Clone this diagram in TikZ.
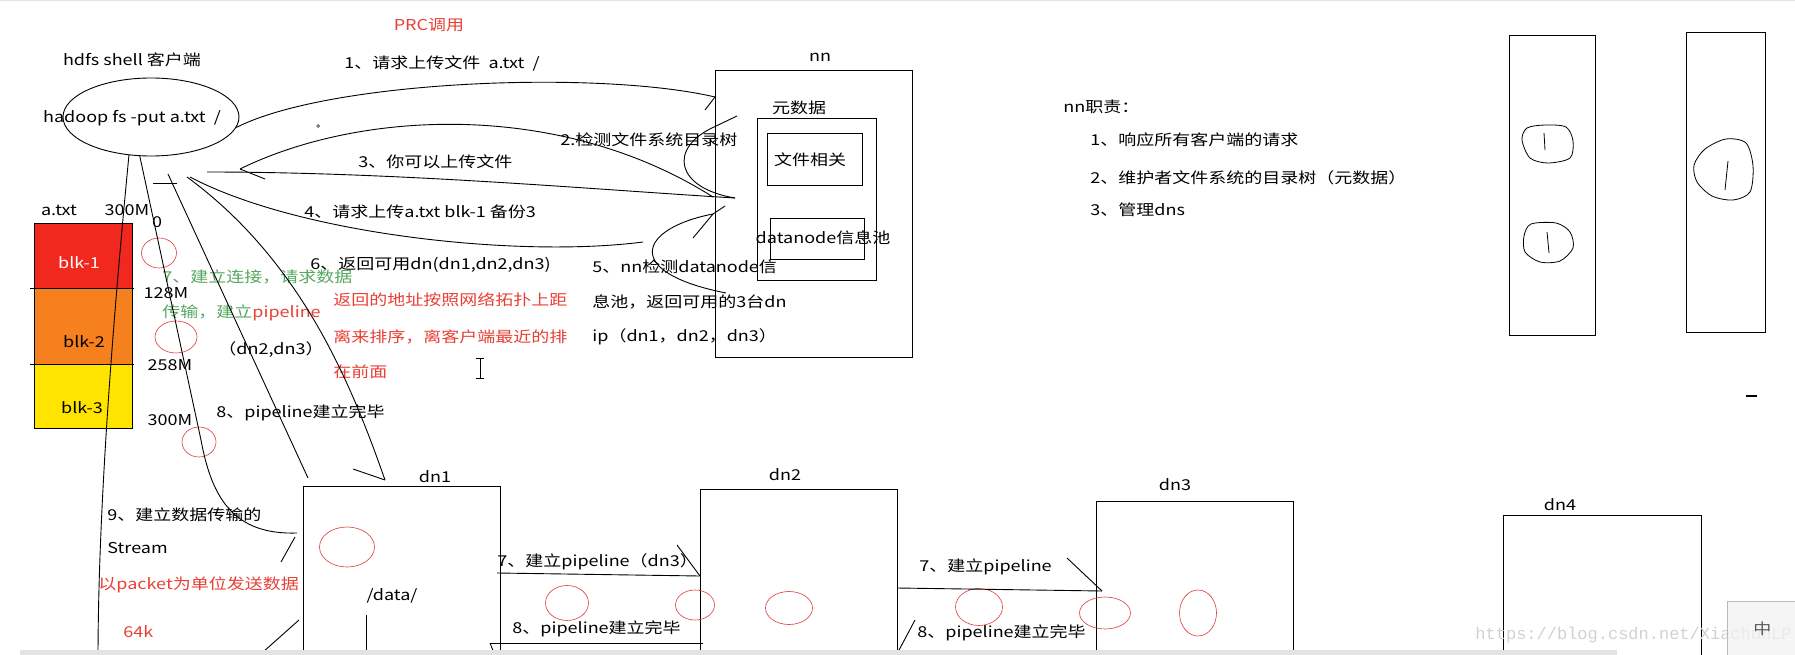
\documentclass[tikz,border=0pt]{standalone}
\usepackage{fontspec}
\setmainfont{Noto Sans CJK SC}[FakeStretch=1.2]
\newfontfamily\wmfont{Liberation Mono}
\usetikzlibrary{shapes.geometric}
\definecolor{penred}{RGB}{232,64,54}
\definecolor{pengreen}{RGB}{86,168,96}
\definecolor{ringred}{RGB}{222,60,60}
\definecolor{blkred}{RGB}{240,40,30}
\definecolor{blkorange}{RGB}{246,128,30}
\definecolor{blkyellow}{RGB}{255,228,0}
\begin{document}
\begin{tikzpicture}[
        x=1pt, y=-1pt,
        line width=0.9pt,
        every node/.style={font=\fontsize{15}{17}\selectfont, inner sep=0pt},
        lbl/.style={anchor=west},
        redtxt/.style={text=penred},
        grntxt/.style={text=pengreen},
        ring/.style 2 args={draw=ringred, line width=0.6pt, ellipse, minimum width=#1pt, minimum height=#2pt},
        ]
        \useasboundingbox (0,0) rectangle (1795,655);
        \clip (0,0) rectangle (1795,655);
        \fill[white] (0,0) rectangle (1795,655);
        \fill[blue!8!gray!20] (0,0) rectangle (1795,1.5);

        % Client
        \node[redtxt] (rpc) at (429,25) {PRC调用};
        \node (clientlbl) at (132,60) {hdfs shell 客户端};
        \node[draw, ellipse, minimum width=176pt, minimum height=78pt] (client) at (151,117) {};
        \node (cmd) at (132,118) {hadoop fs -put a.txt\ \ /};
        \draw[line width=0.5pt] (318,126) circle (1.4);

        % File blocks
        \node (afile) at (59,210) {a.txt};
        \node (asize) at (127,210) {300M};
        \fill[blkred] (34,223) rectangle (132,288);
        \fill[blkorange] (34,288) rectangle (132,364);
        \fill[blkyellow] (34,364) rectangle (132,428);
        \draw (34,223) rectangle (132,428);
        \draw (30,288) -- (134,288);
        \draw (30,364) -- (134,364);
        \node[text=white] (blk1) at (79,263) {blk-1};
        \node (blk2) at (84,342) {blk-2};
        \node (blk3) at (82,408) {blk-3};
        \node (off0) at (157,222) {0};
        \node (off1) at (166,293) {128M};
        \node (off2) at (170,365) {258M};
        \node (off3) at (170,420) {300M};
        \node[ring={35}{30}] (r1) at (159,253) {};
        \node[ring={42}{32}] (r2) at (176,337) {};
        \node[ring={34}{30}] (r3) at (199,442) {};

        % Namenode
        \node (nnlbl) at (820,57) {nn};
        \node[draw, minimum width=197pt, minimum height=287pt] (nn) at (813.5,213.5) {};
        \node (meta) at (799,108) {元数据};
        \node[draw, minimum width=119pt, minimum height=162pt] (metabox) at (816.5,199) {};
        \node[draw, minimum width=95pt, minimum height=52pt] (filebox) at (814.5,159) {};
        \node (filetxt) at (810,160) {文件相关};
        \node[draw, minimum width=94pt, minimum height=41pt] (poolbox) at (817,238.5) {};
        \node (pooltxt) at (823,238) {datanode信息池};

        % Messages client <-> nn
        \node[lbl] (m1) at (344,63) {1、请求上传文件\ \ a.txt\ \ /};
        \node[lbl] (m2) at (560,140) {2.检测文件系统目录树};
        \node[lbl] (m3) at (358,162) {3、你可以上传文件};
        \node[lbl] (m4) at (304,212) {4、请求上传a.txt blk-1 备份3};
        \node[lbl] (m6) at (310,265) {6、返回可用dn(dn1,dn2,dn3)};
        \node[lbl, redtxt] (m6a) at (333,300) {返回的地址按照网络拓扑上距};
        \node[lbl, redtxt] (m6b) at (333,337) {离来排序，离客户端最近的排};
        \node[lbl, redtxt] (m6c) at (333,372) {在前面};
        \node[lbl] (m5a) at (592,267) {5、nn检测datanode信};
        \node[lbl] (m5b) at (592,302) {息池，返回可用的3台dn};
        \node[lbl] (m5c) at (592,337) {ip（dn1，dn2，dn3）};

        \coordinate (nnA) at (715,97);
        \coordinate (nnB) at (714,127);
        \coordinate (nnC) at (735,198);
        \coordinate (nnD) at (713,197);
        \coordinate (nnE) at (713,214);
        \coordinate (nnF) at (726,293);
        \coordinate (nnG) at (643,242);
        \coordinate (cl3) at (240,169);
        \coordinate (cl4) at (207,172);
        \coordinate (cl6) at (190,177);

        \draw (client.-7) .. controls (330,80) and (600,70) .. (nnA);
        \draw (nnA) -- ++(-10,13);
        \draw (737,116) -- (nnB) .. controls (668,148) and (675,188) .. (nnC);
        \draw (nnD) .. controls (560,100) and (360,110) .. (cl3);
        \draw (cl3) -- ++(25,10);
        \draw (cl4) .. controls (400,172) and (600,190) .. (nnC);
        \draw (nnG) .. controls (520,258) and (300,235) .. (cl6);
        \draw (nnF) .. controls (620,272) and (640,228) .. (nnE);
        \draw (nnE) -- ++(-20,24);
        \draw (nnE) -- ++(12,-8);

        % Pipeline notes
        \node[lbl, grntxt] (m7a) at (162,277) {7、建立连接，请求数据};
        \node[lbl] (m7b) at (162,313) {\textcolor{pengreen}{传输，建立}\textcolor{penred}{pipeline}};
        \node[lbl] (m7c) at (218,350) {（dn2,dn3）};
        \node[lbl] (m8) at (216,413) {8、pipeline建立完毕};
        \node[lbl] (m9a) at (107,515) {9、建立数据传输的};
        \node[lbl] (m9b) at (107,548) {Stream};
        \node[lbl, redtxt] (m9c) at (98,585) {以packet为单位发送数据};
        \node[lbl, redtxt] (m9d) at (123,632) {64k};
        \draw[line width=0.6pt] (480,358) -- (480,378) (476,358) -- (484,358) (476,378) -- (484,378);

        % Datanodes
        \node (dn1lbl) at (435,477) {dn1};
        \node (dn2lbl) at (785,475) {dn2};
        \node (dn3lbl) at (1175,485) {dn3};
        \node (dn4lbl) at (1560,505) {dn4};
        \draw (303,660) -- (303,486) -- (500,486) -- (500,660);
        \draw (700,660) -- (700,489) -- (897,489) -- (897,660);
        \draw (1096,660) -- (1096,501) -- (1293,501) -- (1293,660);
        \draw (1503,660) -- (1503,515) -- (1701,515) -- (1701,660);
        \node (data) at (392,596) {/data/};
        \draw (366,615) -- (366,660);
        \node[ring={55}{40}] (r4) at (347,547) {};
        \node[ring={43}{35}] (r5) at (567,603) {};
        \node[ring={39}{30}] (r6) at (695,605) {};
        \node[ring={47}{33}] (r7) at (789,608) {};
        \node[ring={47}{37}] (r8) at (979,607) {};
        \node[ring={51}{32}] (r9) at (1105,613) {};
        \node[ring={37}{46}] (r10) at (1198,613) {};

        \coordinate (dn1C) at (308,478);
        \coordinate (dn1D) at (385,480);
        \coordinate (dn1B) at (297,533);
        \coordinate (cl7) at (187,177);
        \coordinate (cl8) at (168,174);

        \draw (client.-120) .. controls (115,300) and (98,500) .. (98,660);
        \draw (client.-106) -- (201,440) .. controls (212,500) and (235,535) .. (dn1B);
        \draw (295,537) -- (281,562);
        \draw (dn1C) -- (cl8);
        \draw (153,183) -- (177,183);
        \draw (cl7) .. controls (300,260) and (350,380) .. (dn1D);
        \draw (dn1D) -- (353,469);
        \draw (299,620) -- (263,652);

        \node[lbl] (p7a) at (497,562) {7、建立pipeline（dn3）};
        \node[lbl] (p8a) at (512,629) {8、pipeline建立完毕};
        \node[lbl] (p7b) at (919,567) {7、建立pipeline};
        \node[lbl] (p8b) at (917,633) {8、pipeline建立完毕};
        \draw (497,573) -- (700,576);
        \draw (700,576) -- (677,545);
        \draw (703,643) -- (490,643);
        \draw (490,643) -- (494,653);
        \draw (897,588) -- (1102,591);
        \draw (1102,591) -- (1067,558);
        \draw (1096,652) -- (898,652);
        \draw (898,652) -- (915,620);

        % nn duties
        \node[lbl] (duty) at (1063,107) {nn职责：};
        \node[lbl] (duty1) at (1090,140) {1、响应所有客户端的请求};
        \node[lbl] (duty2) at (1090,178) {2、维护者文件系统的目录树（元数据）};
        \node[lbl] (duty3) at (1090,210) {3、管理dns};

        % Racks on the right
        \node[draw, minimum width=86pt, minimum height=300pt] (rackA) at (1552,185) {};
        \node[draw, minimum width=79pt, minimum height=300pt] (rackB) at (1725.5,182) {};
        \draw[line width=0.8pt] plot[smooth cycle] coordinates {(1522,140) (1527,128) (1545,125) (1566,127) (1573,141) (1570,158) (1548,163) (1530,158)};
        \draw[line width=0.8pt] (1544,133) -- (1545,150);
        \draw[line width=0.8pt] plot[smooth cycle] coordinates {(1524,236) (1531,224) (1556,223) (1570,232) (1573,248) (1560,261) (1540,262) (1525,252)};
        \draw[line width=0.8pt] (1547,232) -- (1549,253);
        \draw[line width=0.8pt] plot[smooth cycle] coordinates {(1694,165) (1705,149) (1726,139) (1746,143) (1753,166) (1750,192) (1733,200) (1712,196) (1697,182)};
        \draw[line width=0.8pt] (1728,161) -- (1725,190);
        \draw[line width=1.6pt] (1746,396) -- (1757,396);

        % Screen leftovers
        \fill[gray!22] (20,650) rectangle (1617,655);
        \node[lbl, text=gray!35, font=\wmfont\fontsize{17}{17}\selectfont] (mark) at (1475,635) {https://blog.csdn.net/XiachunLP};
        \node[draw=gray!55, fill=gray!10, fill opacity=0.75, text opacity=1, minimum width=70pt, minimum height=54pt, anchor=north west, text=gray!70!black] (ime) at (1727,601) {中};

    \end{tikzpicture}
\end{document}
